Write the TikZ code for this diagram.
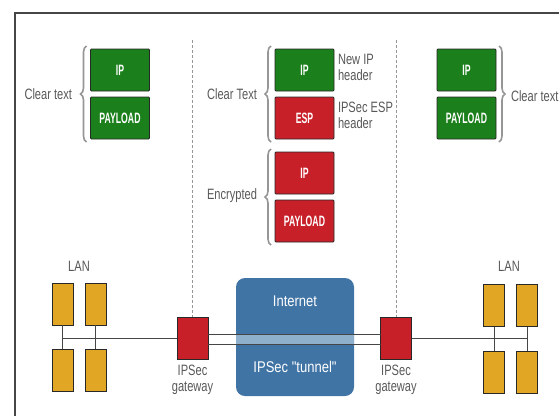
\documentclass[tikz,border=0pt]{standalone}
\usepackage{fontspec}
\setmainfont{Liberation Sans}[FakeStretch=0.74]
\newfontfamily\boxfont{Liberation Sans}[FakeStretch=0.58]
\newfontfamily\cloudfont{Liberation Sans}[FakeStretch=0.84]
\usetikzlibrary{positioning,decorations.pathreplacing}

\definecolor{ipgreen}{RGB}{27,127,27}
\definecolor{ipred}{RGB}{200,32,40}
\definecolor{hostyellow}{RGB}{224,166,36}
\definecolor{inetblue}{RGB}{64,116,165}
\definecolor{tunnelblue}{RGB}{142,176,205}
\definecolor{labelgray}{RGB}{88,88,88}
\definecolor{bracegray}{RGB}{150,150,150}
\definecolor{boxedge}{RGB}{40,40,40}
\definecolor{framegray}{RGB}{70,70,70}

\begin{document}
\begin{tikzpicture}[
  x=1pt,
  y=-1pt,
  every node/.style={inner sep=0pt, outer sep=0pt},
  note/.style={font=\fontsize{15}{16}\selectfont, text=labelgray, align=center},
  pktbox/.style={draw=boxedge, line width=0.8pt, rounded corners=1pt, minimum width=59pt, minimum height=42pt, text=white, font=\boxfont\bfseries\fontsize{15}{16}\selectfont},
  greenbox/.style={pktbox, fill=ipgreen},
  redbox/.style={pktbox, fill=ipred},
  hostbox/.style={draw=boxedge, line width=0.8pt, fill=hostyellow, minimum width=21pt, minimum height=42pt},
  gatebox/.style={draw=boxedge, line width=0.8pt, fill=ipred, minimum width=31pt, minimum height=42pt},
  cloudtext/.style={font=\cloudfont\fontsize{15.5}{17}\selectfont, text=white},
  brace/.style={draw=bracegray, line width=1.6pt, decorate, decoration={brace, amplitude=6pt}},
  divider/.style={draw=bracegray, line width=0.7pt, dash pattern=on 3pt off 2pt},
  wire/.style={draw=framegray, line width=0.9pt}
]

  \path[use as bounding box] (0,0) rectangle (559,416);

  % Frame.
  \draw[framegray, line width=1.6pt] (15,416) -- (15,13) -- (559,13);

  % Packet before the gateway.
  \node[greenbox] (ipL) at (120,70) {IP};
  \node[greenbox, below=6pt of ipL] (payL) {PAYLOAD};
  \draw[brace] ([xshift=-4pt,yshift=-3pt]payL.south west) -- ([xshift=-4pt,yshift=3pt]ipL.north west);
  \node[note, anchor=east] (clearL) at (72,94) {Clear text};

  % Packet inside the tunnel.
  \node[greenbox] (ipN) at (304.5,70) {IP};
  \node[redbox, below=6pt of ipN] (espN) {ESP};
  \node[redbox, below=13pt of espN] (ipE) {IP};
  \node[redbox, below=6pt of ipE] (payE) {PAYLOAD};
  \node[note, anchor=west, align=left] (ipNote) at (338,67) {New IP\\header};
  \node[note, anchor=west, align=left] (espNote) at (338,115) {IPSec ESP\\header};
  \draw[brace] ([xshift=-4pt,yshift=-3pt]espN.south west) -- ([xshift=-4pt,yshift=3pt]ipN.north west);
  \draw[brace] ([xshift=-4pt,yshift=-3pt]payE.south west) -- ([xshift=-4pt,yshift=3pt]ipE.north west);
  \node[note, anchor=east] (clearN) at (257,94) {Clear Text};
  \node[note, anchor=east] (encN) at (257,196) {Encrypted};

  % Packet after the gateway.
  \node[greenbox] (ipR) at (466.5,70) {IP};
  \node[greenbox, below=6pt of ipR] (payR) {PAYLOAD};
  \draw[brace] ([xshift=3pt,yshift=3pt]ipR.north east) -- ([xshift=3pt,yshift=-3pt]payR.south east);
  \node[note, anchor=west] (clearR) at (511,96) {Clear text};

  % Internet cloud and tunnel.
  \node[draw=none, fill=inetblue, rounded corners=9pt, minimum width=118pt, minimum height=118pt] (inet) at (295,337) {};
  \node[cloudtext] (inetText) at (295,301) {Internet};
  \node[cloudtext] (tunText) at (295,367) {IPSec "tunnel"};
  \fill[tunnelblue] (inet.west |- 0,334) rectangle (inet.east |- 0,344);

  % Gateways.
  \node[gatebox] (gwL) at (192.5,338) {};
  \node[gatebox] (gwR) at (396,338) {};
  \draw[wire] (gwL.east |- 0,334) -- (gwR.west |- 0,334);
  \draw[wire] (gwL.east |- 0,344) -- (gwR.west |- 0,344);
  \node[note, below=6pt of gwL] (gwLText) {IPSec\\gateway};
  \node[note, below=6pt of gwR] (gwRText) {IPSec\\gateway};

  % Dividers.
  \draw[divider] (gwL.north |- 0,40) -- (gwL.north);
  \draw[divider] (gwR.north |- 0,40) -- (gwR.north);

  % Left LAN.
  \node[note] (lanLText) at (79,266) {LAN};
  \node[hostbox] (lanL1) at (62.5,304) {};
  \node[hostbox] (lanL2) at (95.5,304) {};
  \node[hostbox] (lanL3) at (62.5,370) {};
  \node[hostbox] (lanL4) at (95.5,370) {};
  \draw[wire] (lanL1) -- (lanL3);
  \draw[wire] (lanL2) -- (lanL4);
  \draw[wire] (lanL1 |- gwL) -- (gwL.west);

  % Right LAN.
  \node[note] (lanRText) at (509,266) {LAN};
  \node[hostbox] (lanR1) at (494,305.5) {};
  \node[hostbox] (lanR2) at (527,305.5) {};
  \node[hostbox] (lanR3) at (494,372) {};
  \node[hostbox] (lanR4) at (527,372) {};
  \draw[wire] (lanR1) -- (lanR3);
  \draw[wire] (lanR2) -- (lanR4);
  \draw[wire] (gwR.east) -- (lanR2 |- gwR);

\end{tikzpicture}
\end{document}
